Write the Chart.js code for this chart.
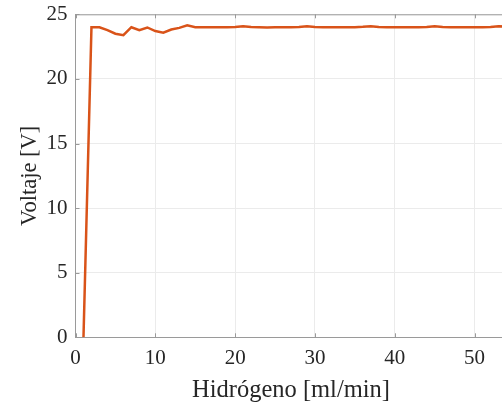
<!DOCTYPE html>
<html>
<head>
<meta charset="utf-8">
<script src="https://cdn.jsdelivr.net/npm/chart.js@4.4.1/dist/chart.umd.min.js"></script>
<style>
  html, body { margin: 0; padding: 0; background: #fff; overflow: hidden; }
  #wrap { width: 510px; height: 403px; position: relative; }
</style>
</head>
<body>
<div id="wrap"><canvas id="myChart"></canvas></div>
<script>
// flujo de hidrogeno [ml/min]
const hidrogeno = [1, 2, 3, 4, 5, 6, 7, 8, 9, 10, 11, 12, 13, 14, 15, 16, 17, 18,
  19, 20, 21, 22, 23, 24, 25, 26, 27, 28, 29, 30, 31, 32, 33, 34, 35, 36, 37, 38,
  39, 40, 41, 42, 43, 44, 45, 46, 47, 48, 49, 50, 51, 52, 53, 54];
// voltaje [V]
const voltaje = [0, 24.0, 24.0, 23.77, 23.5, 23.38, 24.0, 23.77, 23.98, 23.7, 23.58,
  23.82, 23.95, 24.15, 24.0, 24.0, 24.0, 24.0, 24.0, 24.02, 24.08, 24.02, 24.0, 23.98,
  24.0, 24.0, 24.0, 24.02, 24.08, 24.02, 24.0, 24.0, 24.0, 24.0, 24.0, 24.03, 24.08,
  24.02, 24.0, 24.0, 24.0, 24.0, 24.0, 24.02, 24.08, 24.02, 24.0, 24.0, 24.0, 24.0,
  24.0, 24.02, 24.08, 24.05];
const xTicks = [0, 10, 20, 30, 40, 50];
const yTicks = [0, 5, 10, 15, 20, 25];

const points = hidrogeno.map((h, i) => ({ x: h, y: voltaje[i] }));

const axisColor = '#9a9a9a';
const textColor = '#262626';
const gridColor = '#ebebeb';
const serif = '"Liberation Serif", "Times New Roman", serif';

// caja + ticks hacia adentro estilo matlab
const boxPlugin = {
  id: 'box',
  afterDraw(chart) {
    const ctx = chart.ctx;
    const a = chart.chartArea;
    const xs = chart.scales.x;
    const ys = chart.scales.y;
    ctx.save();
    ctx.strokeStyle = axisColor;
    ctx.lineWidth = 1;
    ctx.beginPath();
    ctx.moveTo(a.left, a.top + 0.5);
    ctx.lineTo(a.right, a.top + 0.5);
    ctx.moveTo(a.right - 0.5, a.top);
    ctx.lineTo(a.right - 0.5, a.bottom);
    xTicks.forEach(v => {
      const px = Math.round(xs.getPixelForValue(v)) + 0.5;
      ctx.moveTo(px, a.bottom);
      ctx.lineTo(px, a.bottom - 4);
      ctx.moveTo(px, a.top);
      ctx.lineTo(px, a.top + 4);
    });
    yTicks.forEach(v => {
      const py = Math.round(ys.getPixelForValue(v)) + 0.5;
      ctx.moveTo(a.left, py);
      ctx.lineTo(a.left + 4, py);
      ctx.moveTo(a.right, py);
      ctx.lineTo(a.right - 4, py);
    });
    ctx.stroke();
    ctx.restore();
  }
};

const config = {
  type: 'line',
  data: {
    datasets: [{
      data: points,
      borderColor: '#D95319',
      backgroundColor: '#D95319',
      borderWidth: 2.5,
      pointRadius: 0,
      tension: 0,
      fill: false
    }]
  },
  options: {
    responsive: true,
    maintainAspectRatio: false,
    animation: false,
    events: [],
    layout: { padding: { top: 14.3, right: 3.5, bottom: 0, left: 0 } },
    plugins: {
      legend: { display: false },
      tooltip: { enabled: false }
    },
    scales: {
      x: {
        type: 'linear',
        min: 0,
        max: 54,
        afterFit: (scale) => {
          scale.height = 65.7;
          scale.paddingLeft = 0;
          scale.paddingRight = 0;
        },
        afterBuildTicks: (scale) => { scale.ticks = xTicks.map(v => ({ value: v })); },
        ticks: {
          color: textColor,
          padding: 9,
          maxRotation: 0,
          font: { family: serif, size: 21 }
        },
        grid: { color: gridColor, drawTicks: false },
        border: { color: axisColor },
        title: {
          display: true,
          text: 'Hidrógeno [ml/min]',
          color: textColor,
          padding: { top: 0, bottom: 0 },
          font: { family: serif, size: 24.5, lineHeight: 1 }
        }
      },
      y: {
        min: 0,
        max: 25,
        afterFit: (scale) => {
          scale.width = 75.5;
          scale.paddingTop = 0;
          scale.paddingBottom = 0;
        },
        afterBuildTicks: (scale) => { scale.ticks = yTicks.map(v => ({ value: v })); },
        ticks: {
          color: textColor,
          padding: 8,
          font: { family: serif, size: 21 }
        },
        grid: { color: gridColor, drawTicks: false },
        border: { color: axisColor },
        title: {
          display: true,
          text: 'Voltaje [V]',
          color: textColor,
          padding: { top: 18.5, bottom: 0 },
          font: { family: serif, size: 22.5, lineHeight: 1 }
        }
      }
    }
  },
  plugins: [boxPlugin]
};

var myChart = new Chart(document.getElementById('myChart'), config);
</script>
</body>
</html>
